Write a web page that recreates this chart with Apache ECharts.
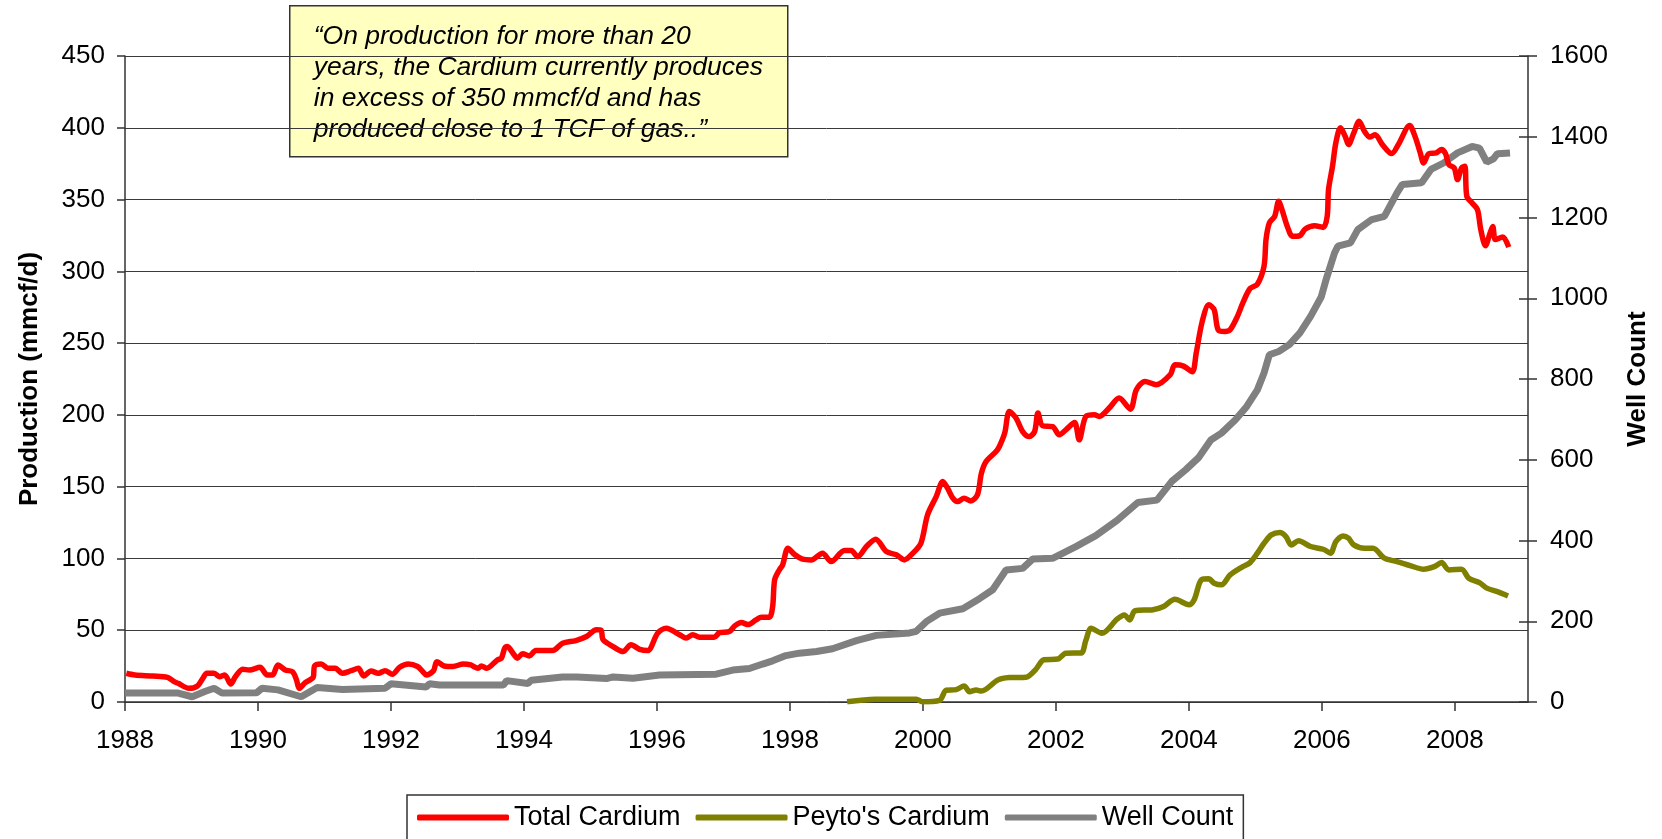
<!DOCTYPE html>
<html>
<head>
<meta charset="utf-8">
<title>Cardium production</title>
<script src="https://cdn.jsdelivr.net/npm/echarts@6/dist/echarts.min.js"></script>
<style>
  html, body { margin: 0; padding: 0; background: #fff; }
  #chart { width: 1662px; height: 839px; }
</style>
</head>
<body>
<div id="chart"></div>
<script>
// tick labels on the x axis
const yearTicks = [1988, 1990, 1992, 1994, 1996, 1998, 2000, 2002, 2004, 2006, 2008]

// Total Cardium (mmcf/d)
const totalYears = [1988.02, 1988.15, 1988.42, 1988.64, 1988.74, 1988.80, 1988.96, 1989.09, 1989.17, 1989.23,
  1989.34, 1989.42, 1989.50, 1989.59, 1989.66, 1989.77, 1989.87, 1990.03, 1990.14, 1990.22,
  1990.30, 1990.41, 1990.52, 1990.58, 1990.62, 1990.71, 1990.83, 1990.85, 1990.95, 1991.05,
  1991.16, 1991.27, 1991.40, 1991.51, 1991.59, 1991.70, 1991.81, 1991.91, 1992.02, 1992.13,
  1992.26, 1992.40, 1992.48, 1992.53, 1992.64, 1992.69, 1992.80, 1992.93, 1993.09, 1993.20,
  1993.31, 1993.36, 1993.44, 1993.60, 1993.66, 1993.71, 1993.75, 1993.85, 1993.90, 1993.98,
  1994.08, 1994.18, 1994.43, 1994.58, 1994.78, 1994.94, 1995.09, 1995.16, 1995.19, 1995.34,
  1995.49, 1995.61, 1995.74, 1995.86, 1996.01, 1996.14, 1996.34, 1996.44, 1996.54, 1996.64,
  1996.86, 1996.94, 1997.09, 1997.17, 1997.27, 1997.37, 1997.49, 1997.57, 1997.69, 1997.74,
  1997.77, 1997.84, 1997.89, 1997.97, 1998.07, 1998.19, 1998.32, 1998.49, 1998.62, 1998.82,
  1998.92, 1999.02, 1999.15, 1999.29, 1999.45, 1999.60, 1999.72, 1999.85, 1999.97, 2000.07,
  2000.20, 2000.30, 2000.37, 2000.45, 2000.52, 2000.62, 2000.72, 2000.82, 2000.88, 2000.95,
  2001.10, 2001.15, 2001.23, 2001.30, 2001.40, 2001.50, 2001.60, 2001.68, 2001.73, 2001.80,
  2001.95, 2002.05, 2002.15, 2002.28, 2002.35, 2002.45, 2002.58, 2002.65, 2002.80, 2002.95,
  2003.12, 2003.21, 2003.34, 2003.51, 2003.72, 2003.79, 2003.92, 2004.05, 2004.11, 2004.20,
  2004.30, 2004.38, 2004.44, 2004.54, 2004.62, 2004.73, 2004.81, 2004.92, 2005.03, 2005.13,
  2005.16, 2005.21, 2005.29, 2005.35, 2005.40, 2005.48, 2005.56, 2005.67, 2005.75, 2005.89,
  2006.02, 2006.08, 2006.10, 2006.16, 2006.21, 2006.28, 2006.35, 2006.40, 2006.48, 2006.56,
  2006.64, 2006.72, 2006.80, 2006.91, 2007.05, 2007.15, 2007.32, 2007.40, 2007.48, 2007.53,
  2007.61, 2007.72, 2007.80, 2007.86, 2007.91, 2007.99, 2008.04, 2008.10, 2008.15, 2008.18,
  2008.26, 2008.34, 2008.39, 2008.46, 2008.53, 2008.57, 2008.61, 2008.72, 2008.81]
const totalValues = [20.0, 18.8, 18.1, 17.2, 14.2, 13.0, 9.5, 11.2, 16.5, 20.0,
  20.0, 17.6, 18.8, 12.5, 17.6, 22.8, 22.3, 24.2, 18.8, 18.8,
  25.8, 22.3, 21.1, 15.3, 9.5, 13.5, 17.2, 25.1, 26.5, 23.5,
  23.5, 20.0, 21.8, 23.5, 18.1, 21.6, 20.0, 21.8, 19.3, 24.2,
  26.5, 24.7, 21.1, 18.8, 21.8, 28.1, 25.1, 24.7, 26.5, 25.8,
  23.5, 25.1, 23.5, 29.3, 30.5, 37.4, 38.6, 33.0, 30.5, 33.6,
  32.1, 35.8, 35.8, 40.9, 42.8, 45.6, 50.3, 50.0, 43.4, 38.6,
  35.1, 39.9, 36.7, 35.8, 47.9, 51.4, 46.9, 44.5, 46.9, 45.1,
  45.1, 48.3, 49.1, 53.0, 55.3, 53.9, 57.2, 59.0, 59.0, 66.5,
  85.0, 92.0, 95.5, 107.1, 102.7, 99.5, 99.0, 103.7, 97.8, 105.5,
  105.5, 101.3, 108.3, 113.4, 104.8, 102.5, 99.0, 103.7, 110.6, 130.4,
  143.1, 153.6, 149.0, 142.0, 139.6, 142.0, 140.1, 144.3, 159.4, 167.5,
  174.5, 178.0, 187.3, 202.4, 197.8, 188.4, 184.9, 188.4, 201.3, 192.4,
  191.9, 186.1, 189.6, 194.7, 182.6, 198.9, 200.1, 198.9, 204.7, 211.7,
  204.0, 217.5, 223.3, 221.0, 228.0, 234.9, 234.0, 230.0, 243.0, 265.0,
  276.7, 273.3, 259.3, 258.1, 259.3, 268.6, 277.9, 288.0, 291.0, 303.5,
  322.1, 333.7, 338.3, 348.8, 343.0, 331.3, 324.4, 324.9, 329.5, 331.8,
  330.6, 338.3, 356.9, 373.2, 389.5, 400.0, 394.1, 388.3, 396.4, 404.5,
  397.6, 393.6, 395.2, 388.3, 382.0, 388.3, 401.5, 394.1, 382.5, 375.5,
  382.0, 382.5, 384.8, 382.0, 374.3, 372.0, 363.9, 372.0, 373.2, 352.2,
  347.6, 343.0, 329.0, 317.9, 326.7, 331.3, 322.1, 324.0, 316.9]

// Peyto's Cardium (mmcf/d)
const peytoYears = [1998.86, 1999.28, 1999.90, 1999.99, 2000.25, 2000.35, 2000.50, 2000.62, 2000.70, 2000.80,
  2000.88, 2001.13, 2001.30, 2001.55, 2001.69, 2001.82, 2002.03, 2002.15, 2002.38, 2002.45,
  2002.53, 2002.69, 2002.92, 2003.03, 2003.11, 2003.19, 2003.46, 2003.62, 2003.79, 2004.00,
  2004.08, 2004.19, 2004.30, 2004.38, 2004.49, 2004.62, 2004.81, 2004.92, 2005.03, 2005.13,
  2005.24, 2005.37, 2005.46, 2005.54, 2005.65, 2005.83, 2006.02, 2006.13, 2006.21, 2006.32,
  2006.40, 2006.48, 2006.64, 2006.77, 2006.94, 2007.13, 2007.34, 2007.53, 2007.69, 2007.80,
  2007.91, 2008.10, 2008.21, 2008.37, 2008.48, 2008.64, 2008.80]
const peytoValues = [0.2, 2.0, 2.0, 0.2, 1.2, 8.2, 8.6, 11.2, 7.2, 8.4,
  7.6, 15.4, 17.0, 17.3, 22.3, 29.4, 29.9, 34.0, 34.2, 42.8,
  51.4, 47.9, 57.7, 60.6, 57.2, 63.6, 64.3, 66.5, 71.6, 67.8,
  71.3, 85.2, 85.8, 82.7, 81.6, 88.5, 94.3, 97.1, 103.7, 110.6,
  116.4, 118.0, 115.2, 109.4, 112.4, 108.3, 106.4, 103.7, 111.7, 115.7,
  114.1, 109.4, 107.1, 107.1, 100.2, 97.8, 94.8, 92.5, 94.3, 97.1,
  92.0, 92.5, 86.2, 83.2, 79.3, 76.9, 73.9]

// Well Count (wells, right axis)
const wellYears = [1988.00, 1988.80, 1989.01, 1989.20, 1989.34, 1989.46, 1989.98, 1990.06, 1990.30, 1990.65,
  1990.89, 1991.27, 1991.91, 1992.00, 1992.53, 1992.58, 1992.73, 1993.69, 1993.74, 1994.06,
  1994.11, 1994.58, 1994.80, 1995.24, 1995.34, 1995.64, 1996.04, 1996.89, 1997.14, 1997.39,
  1997.59, 1997.74, 1997.94, 1998.14, 1998.40, 1998.64, 1999.00, 1999.30, 1999.80, 1999.90,
  2000.05, 2000.25, 2000.60, 2000.85, 2001.05, 2001.25, 2001.50, 2001.65, 2001.95, 2002.30,
  2002.60, 2002.92, 2003.23, 2003.52, 2003.74, 2003.95, 2004.15, 2004.33, 2004.49, 2004.70,
  2004.87, 2005.03, 2005.13, 2005.21, 2005.35, 2005.51, 2005.67, 2005.83, 2005.99, 2006.07,
  2006.19, 2006.24, 2006.43, 2006.54, 2006.75, 2006.94, 2007.13, 2007.21, 2007.50, 2007.64,
  2007.83, 2008.04, 2008.26, 2008.37, 2008.48, 2008.58, 2008.64, 2008.83]
const wellValues = [22, 22, 13, 26, 34, 22, 23, 34, 30, 13,
  36, 31, 34, 45, 37, 45, 42, 42, 53, 46,
  54, 62, 62, 58, 62, 59, 67, 69, 79, 83,
  94, 102, 115, 121, 125, 132, 152, 165, 171, 175,
  199, 220, 231, 256, 278, 327, 331, 354, 356, 385,
  412, 450, 494, 500, 546, 575, 606, 649, 666, 699,
  732, 773, 815, 860, 868, 885, 914, 955, 1003, 1050,
  1112, 1129, 1137, 1170, 1195, 1203, 1261, 1282, 1286, 1319,
  1335, 1360, 1376, 1372, 1337, 1345, 1358, 1360]

const pairs = (xs, ys) => xs.map((x, i) => [x, ys[i]])

const FONT = 'Liberation Sans, Arial, sans-serif'
const AXIS_COLOR = '#333'

const chart = echarts.init(document.getElementById('chart'))
chart.setOption({
  backgroundColor: '#fff',
  animation: false,
  textStyle: { fontFamily: FONT, color: '#000' },
  grid: {
    left: 125,
    right: 134,
    top: 56,
    bottom: 137,
    outerBoundsMode: 'none'
  },
  legend: {
    left: 407,
    top: 795,
    padding: [9, 10, 20, 10],
    itemGap: 15,
    itemWidth: 92,
    itemHeight: 6,
    icon: 'roundRect',
    borderColor: '#333',
    borderWidth: 1.5,
    textStyle: { fontSize: 27, color: '#000', fontFamily: FONT },
    data: ['Total Cardium', "Peyto's Cardium", 'Well Count']
  },
  xAxis: {
    type: 'value',
    min: 1988,
    max: 2009.1,
    interval: 2,
    splitLine: { show: false },
    axisLine: { lineStyle: { color: AXIS_COLOR, width: 1.5 } },
    axisTick: { length: 9, lineStyle: { color: AXIS_COLOR, width: 1.5 }, customValues: yearTicks },
    axisLabel: {
      fontSize: 26,
      color: '#000',
      margin: 26,
      customValues: yearTicks,
      formatter: v => String(v)
    }
  },
  yAxis: [{
    type: 'value',
    min: 0,
    max: 450,
    interval: 50,
    name: 'Production (mmcf/d)',
    nameLocation: 'middle',
    nameRotate: 90,
    nameGap: 82,
    nameTextStyle: { fontSize: 26, fontWeight: 'bold', color: '#000' },
    axisLine: { show: true, lineStyle: { color: AXIS_COLOR, width: 1.5 } },
    axisTick: { show: true, length: 8, lineStyle: { color: AXIS_COLOR, width: 1.5 } },
    axisLabel: { fontSize: 26, color: '#000', margin: 20, formatter: v => String(v) },
    splitLine: { lineStyle: { color: '#3a3a3a', width: 1 } }
  }, {
    type: 'value',
    position: 'right',
    min: 0,
    max: 1600,
    interval: 200,
    name: 'Well Count',
    nameLocation: 'middle',
    nameRotate: 90,
    nameGap: 97,
    nameTextStyle: { fontSize: 26, fontWeight: 'bold', color: '#000' },
    axisLine: { show: true, lineStyle: { color: AXIS_COLOR, width: 1.5 } },
    axisTick: { show: true, length: 9, lineStyle: { color: AXIS_COLOR, width: 1.5 } },
    axisLabel: { fontSize: 26, color: '#000', margin: 22, formatter: v => String(v) },
    splitLine: { show: false }
  }, {
    // inner half of the crossing ticks on the right axis
    type: 'value',
    position: 'right',
    min: 0,
    max: 1600,
    interval: 200,
    axisLine: { show: false },
    axisTick: { show: true, inside: true, length: 9, lineStyle: { color: AXIS_COLOR, width: 1.5 } },
    axisLabel: { show: false },
    splitLine: { show: false }
  }],
  graphic: [{
    type: 'group',
    left: 289,
    top: 5,
    z: 100,
    children: [{
      type: 'rect',
      shape: { x: 0, y: 0, width: 498, height: 151 },
      style: { fill: '#FFFFC0', stroke: '#333', lineWidth: 1.5 }
    }, {
      type: 'text',
      x: 24,
      y: 15,
      style: {
        text: '\u201cOn production for more than 20\nyears, the Cardium currently produces\nin excess of 350 mmcf/d and has\nproduced close to 1 TCF of gas..\u201d',
        font: 'italic 26.5px ' + FONT,
        lineHeight: 31,
        fill: '#000'
      }
    }]
  }],
  series: [{
    name: 'Well Count',
    type: 'line',
    yAxisIndex: 1,
    z: 1,
    symbol: 'none',
    lineStyle: { width: 7, color: '#808080' },
    itemStyle: { color: '#808080' },
    data: pairs(wellYears, wellValues)
  }, {
    name: 'Total Cardium',
    type: 'line',
    z: 3,
    smooth: 0.3,
    symbol: 'none',
    lineStyle: { width: 5.5, color: '#FF0000' },
    itemStyle: { color: '#FF0000' },
    data: pairs(totalYears, totalValues)
  }, {
    name: "Peyto's Cardium",
    type: 'line',
    z: 2,
    smooth: 0.3,
    symbol: 'none',
    lineStyle: { width: 5.5, color: '#808000' },
    itemStyle: { color: '#808000' },
    data: pairs(peytoYears, peytoValues)
  }]
})
</script>
</body>
</html>
